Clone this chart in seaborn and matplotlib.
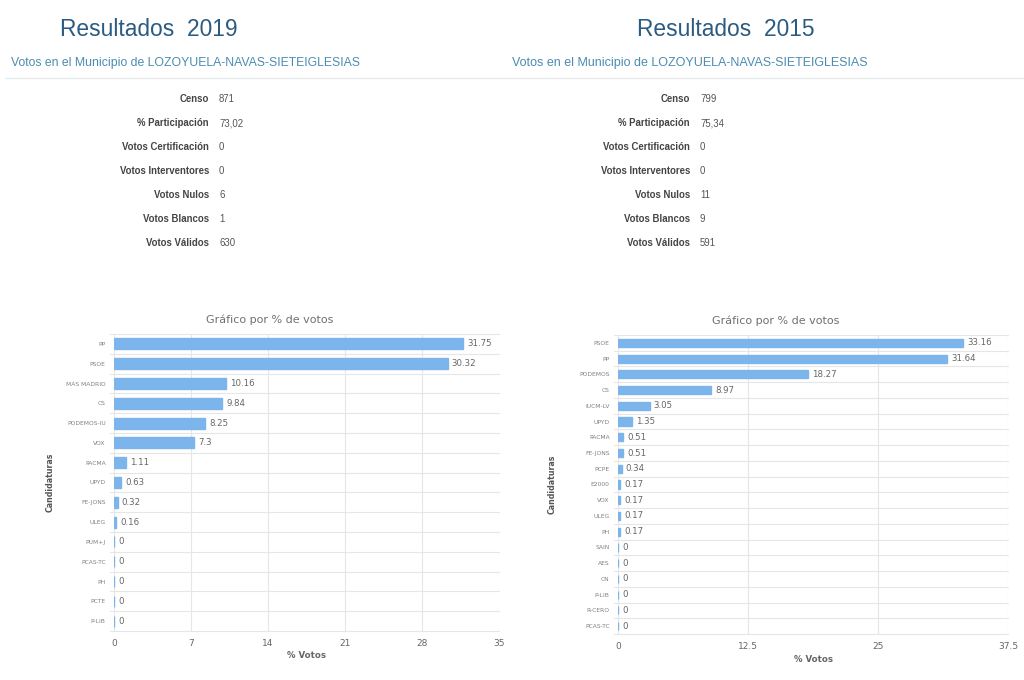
import matplotlib
matplotlib.use('Agg')
import matplotlib.pyplot as plt
from matplotlib.lines import Line2D
import pandas as pd
import seaborn as sns

W, H = 1024, 680

parties_2019 = ['PP', 'PSOE', 'MÁS MADRID', 'CS', 'PODEMOS-IU', 'VOX', 'PACMA', 'UPYD',
                'FE-JONS', 'ULEG', 'PUM+J', 'PCAS-TC', 'PH', 'PCTE', 'P-LIB']
votes_2019 = [31.75, 30.32, 10.16, 9.84, 8.25, 7.3, 1.11, 0.63, 0.32, 0.16, 0, 0, 0, 0, 0]
ticks_2019 = [0, 7, 14, 21, 28, 35]

parties_2015 = ['PSOE', 'PP', 'PODEMOS', 'CS', 'IUCM-LV', 'UPYD', 'PACMA', 'FE-JONS', 'PCPE',
                'E2000', 'VOX', 'ULEG', 'PH', 'SAIN', 'AES', 'CN', 'P-LIB', 'R-CERO', 'PCAS-TC']
votes_2015 = [33.16, 31.64, 18.27, 8.97, 3.05, 1.35, 0.51, 0.51, 0.34, 0.17, 0.17, 0.17, 0.17,
              0, 0, 0, 0, 0, 0]
ticks_2015 = [0, 12.5, 25, 37.5]

stat_names = ['Censo', '% Participación', 'Votos Certificación', 'Votos Interventores',
              'Votos Nulos', 'Votos Blancos', 'Votos Válidos']
stats_2019 = ['871', '73,02', '0', '0', '6', '1', '630']
stats_2015 = ['799', '75,34', '0', '0', '11', '9', '591']

sns.set_theme(style='white')
plt.rcParams['font.family'] = ['DejaVu Sans']

fig = plt.figure(figsize=(W / 100, H / 100), dpi=100)


def fx(px):
    return px / W


def fy(py):
    return 1 - py / H


def draw_header(title, x_title, x_sub, sub_size, x_label, x_value, values):
    fig.text(fx(x_title), fy(30), title, fontsize=16.4, color='#2b5b80', family='Liberation Sans',
             va='center')
    fig.text(fx(x_sub), fy(63), 'Votos en el Municipio de LOZOYUELA-NAVAS-SIETEIGLESIAS',
             fontsize=sub_size, color='#4b8cb0', family='Liberation Sans', va='center')
    for i, name in enumerate(stat_names):
        y = fy(99 + i * 24)
        fig.text(fx(x_label), y, name, fontsize=6.9, fontweight='bold', color='#444444',
                 family='Liberation Sans', ha='right', va='center')
        fig.text(fx(x_value), y, values[i], fontsize=6.9, color='#555555',
                 family='Liberation Sans', va='center')


def draw_chart(parties, votes, ticks, box, bar_width, title_y, xlabel_y, ylabel_x):
    left, top, right, bottom = box
    ax = fig.add_axes([fx(left), fy(bottom), fx(right - left), (bottom - top) / H])
    df = pd.DataFrame({'Candidatura': parties, 'Votos': votes})
    sns.barplot(data=df, x='Votos', y='Candidatura', color='#7cb5ec', saturation=1,
                width=bar_width, edgecolor='#7cb5ec', linewidth=1.0, ax=ax)
    ax.set_xlim(ticks[0], ticks[-1])
    ax.set_ylim(len(parties) - 0.5, -0.5)
    ax.set_xticks(ticks)
    ax.set_xticklabels([f'{t:g}' for t in ticks], fontsize=6.5, color='#666666')
    ax.tick_params(axis='x', length=0, pad=6)
    ax.tick_params(axis='y', length=0, pad=6, labelsize=4.3, labelcolor='#808080')
    ax.set_xlabel('')
    ax.set_ylabel('')
    ax.xaxis.grid(True, color='#e6e6e6', linewidth=0.8)
    ax.set_axisbelow(True)
    # category separators, Highcharts style
    for i in range(len(parties) + 1):
        ax.add_line(Line2D([-0.01, 1], [i - 0.5, i - 0.5], transform=ax.get_yaxis_transform(),
                           color='#e6e6e6', linewidth=0.8, clip_on=False, zorder=0.5))
    for side in ax.spines:
        ax.spines[side].set_visible(False)
    ax.bar_label(ax.containers[0], labels=[f'{v:g}' for v in votes], padding=3, fontsize=6.2,
                 color='#666666')
    fig.text(fx((left + right) / 2 - 37), fy(title_y), 'Gráfico por % de votos', fontsize=8,
             color='#707070', ha='center', va='center')
    fig.text(fx((left + right) / 2), fy(xlabel_y), '% Votos', fontsize=6.2,
             fontweight='bold', color='#666666', ha='center', va='center')
    fig.text(fx(ylabel_x), fy((top + bottom) / 2), 'Candidaturas', fontsize=5.7,
             fontweight='bold', color='#555555', rotation=90, ha='center', va='center')


draw_header('Resultados  2019', 60, 11, 8.8, 209, 219, stats_2019)
draw_header('Resultados  2015', 637, 512, 9.0, 690, 700, stats_2015)
fig.add_artist(Line2D([fx(5), 1], [fy(78), fy(78)], color='#e4e8ea', linewidth=0.9))

draw_chart(parties_2019, votes_2019, ticks_2019, (114, 334, 499, 631), 0.56, 320, 656, 50)
draw_chart(parties_2015, votes_2015, ticks_2015, (618, 335, 1008, 634), 0.52, 321, 660, 552)

fig.savefig('out.png', dpi=100, facecolor='white')
